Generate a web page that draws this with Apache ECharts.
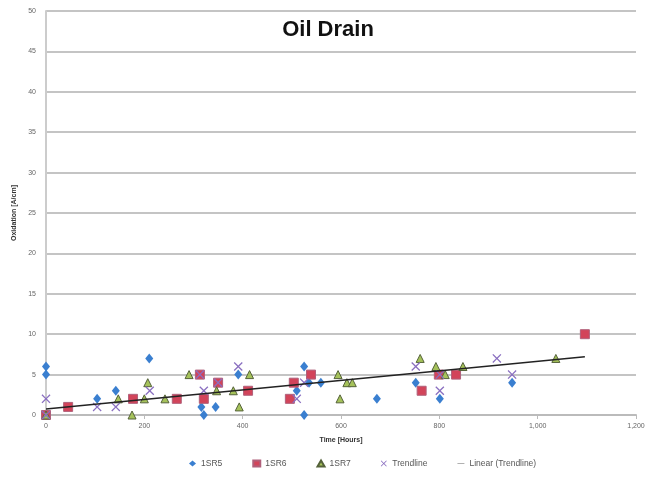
<!DOCTYPE html>
<html>
<head>
<meta charset="utf-8">
<script src="https://cdn.jsdelivr.net/npm/echarts@6/dist/echarts.min.js"></script>
<style>html,body{margin:0;padding:0;background:#fff;}#c{width:657px;height:487px;}</style>
</head>
<body>
<div id="c"></div>
<script>
// Data: [time (hours), oxidation (A/cm)]
var sr5 = [[0,6],[0,5],[104,2],[142,3],[210,7],[316,1],[321,0],[345,1],[391,5],[510,3],[525,6],[525,0],[535,4],[559,4],[673,2],[752,4],[801,2],[948,4]];
var sr6 = [[0,0],[45,1],[177,2],[266,2],[313,5],[321,2],[350,4],[411,3],[496,2],[504,4],[539,5],[764,3],[799,5],[834,5],[1096,10]];
var sr7 = [[0,0],[147,2],[175,0],[200,2],[207,4],[242,2],[291,5],[347,3],[381,3],[393,1],[414,5],[594,5],[598,2],[612,4],[623,4],[761,7],[793,6],[812,5],[848,6],[1037,7]];
var trend = [[0,2],[0,0],[104,1],[142,1],[211,3],[313,5],[321,3],[350,4],[391,6],[510,2],[525,4],[752,6],[801,3],[801,5],[917,7],[948,5]];
var linearFit = [[0,0.75],[1096,7.2]];
var xTicks = [0,200,400,600,800,1000,1200];
var yTicks = [0,5,10,15,20,25,30,35,40,45,50];
var seriesNames = ['1SR5','1SR6','1SR7','Trendline','Linear (Trendline)'];

var xSym = 'path://M0,1L1,0L5,4L9,0L10,1L6,5L10,9L9,10L5,6L1,10L0,9L4,5Z';
var chart = echarts.init(document.getElementById('c'));
var axisFont = {fontFamily:'Liberation Sans, Arial, sans-serif', fontSize:7, color:'#666'};
chart.setOption({
  animation:false,
  backgroundColor:'#fff',
  title:{text:'Oil Drain', left:323, top:14, textAlign:'center',
    textStyle:{fontFamily:'Liberation Sans, Arial, sans-serif', fontSize:22, fontWeight:'bold', color:'#111'}},
  grid:{left:46, right:21, top:11, bottom:72, containLabel:false},
  legend:{bottom:14, left:184, itemGap:30, itemWidth:7, itemHeight:6,
    textStyle:{fontFamily:'Liberation Sans, Arial, sans-serif', fontSize:8.5, color:'#555'},
    data:[{name:seriesNames[0], icon:'diamond'},{name:seriesNames[1], icon:'rect'},{name:seriesNames[2], icon:'triangle'},{name:seriesNames[3], icon:xSym},{name:seriesNames[4], icon:'path://M0,4L20,4L20,5L0,5Z', itemStyle:{color:'#222'}}]},
  xAxis:{type:'value', min:0, max:1200, interval:200,
    name:'Time [Hours]', nameLocation:'middle', nameGap:22,
    nameTextStyle:{fontFamily:'Liberation Sans, Arial, sans-serif', fontSize:7, fontWeight:'bold', color:'#333'},
    axisLine:{show:true, lineStyle:{color:'#bbb', width:2}},
    axisTick:{show:true, length:4, lineStyle:{color:'#bbb'}},
    splitLine:{show:false},
    axisLabel:Object.assign({margin:8, formatter:function(v){return v>=1000? (Math.floor(v/1000)+','+String(v%1000).padStart(3,'0')) : String(v);}}, axisFont)},
  yAxis:{type:'value', min:0, max:50, interval:5,
    name:'Oxidation [A/cm]', nameLocation:'middle', nameGap:24, nameRotate:90,
    nameTextStyle:{fontFamily:'Liberation Sans, Arial, sans-serif', fontSize:7, fontWeight:'bold', color:'#333'},
    axisLine:{show:true, lineStyle:{color:'#ccc', width:2}},
    axisTick:{show:false},
    splitLine:{show:true, lineStyle:{color:'#c4c4c4', width:2}},
    axisLabel:Object.assign({margin:10}, axisFont)},
  series:[
    {name:seriesNames[0], type:'scatter', symbol:'diamond', symbolSize:[8,10], data:sr5, itemStyle:{color:'#3a7fd0', opacity:1}, z:3},
    {name:seriesNames[1], type:'scatter', symbol:'rect', symbolSize:9, data:sr6, itemStyle:{color:'#d2445a', borderColor:'#b0607a', borderWidth:1, opacity:1}, z:4},
    {name:seriesNames[2], type:'scatter', symbol:'triangle', symbolSize:8, data:sr7, itemStyle:{color:'#a5c25a', borderColor:'#55623a', borderWidth:1, opacity:1}, z:5},
    {name:seriesNames[3], type:'scatter', symbol:xSym, symbolSize:9, data:trend, itemStyle:{color:'#8a6fc0', opacity:1}, z:6},
    {name:seriesNames[4], type:'line', data:linearFit, symbol:'none', lineStyle:{color:'#222', width:1.5}, itemStyle:{color:'#222'}, z:7}
  ]
});
</script>
</body>
</html>
